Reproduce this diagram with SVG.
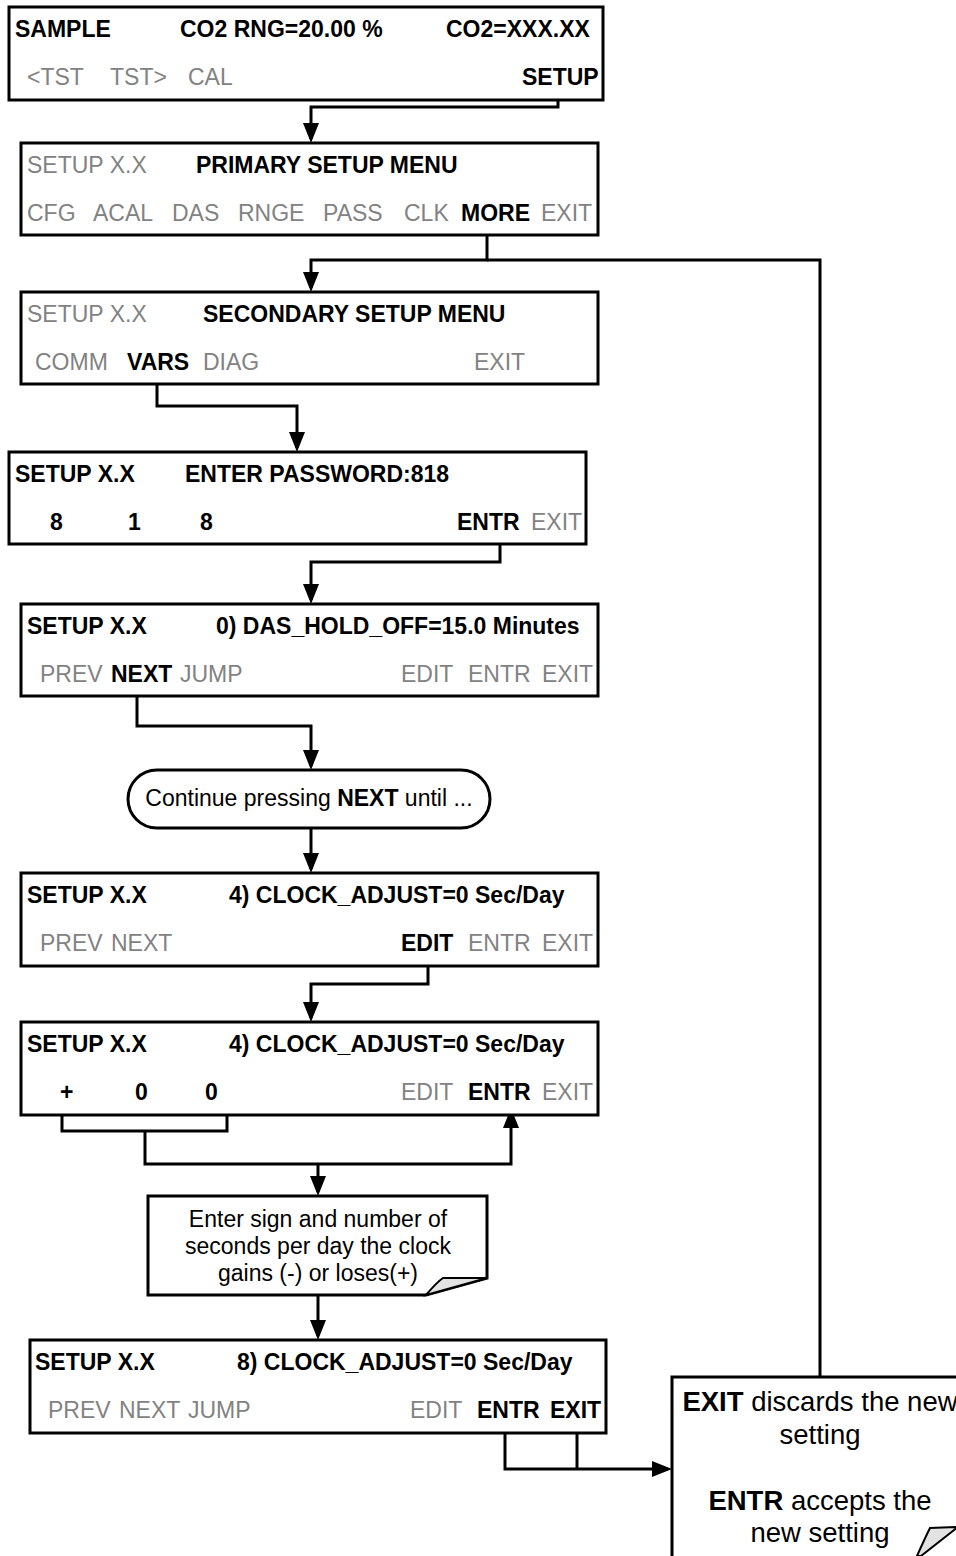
<svg xmlns="http://www.w3.org/2000/svg" width="956" height="1556" viewBox="0 0 956 1556">
<defs>
<style>
text{font-family:"Liberation Sans",Arial,sans-serif;font-size:23px}
.b{font-weight:bold;fill:#000}
.g{fill:#828282}
.k{fill:#000}
.box{fill:#fff;stroke:#000;stroke-width:3}
.ln{fill:none;stroke:#000;stroke-width:3}
.n{font-size:27.5px}
</style>
<marker id="ah" viewBox="0 0 20 16" refX="16" refY="8" markerWidth="20" markerHeight="16" markerUnits="userSpaceOnUse" orient="auto"><path d="M0,0 L20,8 L0,16 Z" fill="#000"/></marker>
</defs>
<rect width="956" height="1556" fill="#fff"/>

<g id="connectors">
<path class="ln" d="M558,100 V107 H311 V139" marker-end="url(#ah)"/>
<path class="ln" d="M487,235 V260 H311 V288" marker-end="url(#ah)"/>
<path class="ln" d="M487,260 H820 V1377"/>
<path class="ln" d="M157,376 V406 H297 V448" marker-end="url(#ah)"/>
<path class="ln" d="M500,544 V562 H311 V600" marker-end="url(#ah)"/>
<path class="ln" d="M137,684 V726 H311 V766" marker-end="url(#ah)"/>
<path class="ln" d="M311,828 V869" marker-end="url(#ah)"/>
<path class="ln" d="M428,954 V984 H311 V1018" marker-end="url(#ah)"/>
<path class="ln" d="M62,1104 V1131 H227 V1104"/>
<path class="ln" d="M145,1131 V1164 H511 V1112" marker-end="url(#ah)"/>
<path class="ln" d="M318,1164 V1192" marker-end="url(#ah)"/>
<path class="ln" d="M318,1296 V1336" marker-end="url(#ah)"/>
<path class="ln" d="M505,1424 V1469 H668" marker-end="url(#ah)"/>
<path class="ln" d="M577,1424 V1469"/>
</g>

<g id="box1">
<rect class="box" x="9" y="7" width="594" height="93"/>
<text class="b" x="15" y="37">SAMPLE</text>
<text class="b" x="180" y="37">CO2 RNG=20.00 %</text>
<text class="b" x="446" y="37">CO2=XXX.XX</text>
<text class="g" x="27" y="85">&lt;TST</text>
<text class="g" x="110" y="85">TST&gt;</text>
<text class="g" x="188" y="85">CAL</text>
<text class="b" x="522" y="85">SETUP</text>
</g>

<g id="box2">
<rect class="box" x="21" y="143" width="577" height="92"/>
<text class="g" x="27" y="173">SETUP X.X</text>
<text class="b" x="196" y="173">PRIMARY SETUP MENU</text>
<text class="g" x="27" y="221">CFG</text>
<text class="g" x="93" y="221">ACAL</text>
<text class="g" x="172" y="221">DAS</text>
<text class="g" x="238" y="221">RNGE</text>
<text class="g" x="323" y="221">PASS</text>
<text class="g" x="404" y="221">CLK</text>
<text class="b" x="461" y="221">MORE</text>
<text class="g" x="541" y="221">EXIT</text>
</g>

<g id="box3">
<rect class="box" x="21" y="292" width="577" height="92"/>
<text class="g" x="27" y="322">SETUP X.X</text>
<text class="b" x="203" y="322">SECONDARY SETUP MENU</text>
<text class="g" x="35" y="370">COMM</text>
<text class="b" x="127" y="370">VARS</text>
<text class="g" x="203" y="370">DIAG</text>
<text class="g" x="474" y="370">EXIT</text>
</g>

<g id="box4">
<rect class="box" x="9" y="452" width="577" height="92"/>
<text class="b" x="15" y="482">SETUP X.X</text>
<text class="b" x="185" y="482">ENTER PASSWORD:818</text>
<text class="b" x="50" y="530">8</text>
<text class="b" x="128" y="530">1</text>
<text class="b" x="200" y="530">8</text>
<text class="b" x="457" y="530">ENTR</text>
<text class="g" x="531" y="530">EXIT</text>
</g>

<g id="box5">
<rect class="box" x="21" y="604" width="577" height="92"/>
<text class="b" x="27" y="634">SETUP X.X</text>
<text class="b" x="216" y="634">0) DAS_HOLD_OFF=15.0 Minutes</text>
<text class="g" x="40" y="682">PREV</text>
<text class="b" x="111" y="682">NEXT</text>
<text class="g" x="180" y="682">JUMP</text>
<text class="g" x="401" y="682">EDIT</text>
<text class="g" x="468" y="682">ENTR</text>
<text class="g" x="542" y="682">EXIT</text>
</g>

<g id="continue">
<rect class="box" x="128" y="770" width="362" height="58" rx="29" ry="29"/>
<text class="k" x="309" y="806" text-anchor="middle">Continue pressing <tspan class="b">NEXT</tspan> until ...</text>
</g>

<g id="box6">
<rect class="box" x="21" y="873" width="577" height="93"/>
<text class="b" x="27" y="903">SETUP X.X</text>
<text class="b" x="229" y="903">4) CLOCK_ADJUST=0 Sec/Day</text>
<text class="g" x="40" y="951">PREV</text>
<text class="g" x="111" y="951">NEXT</text>
<text class="b" x="401" y="951">EDIT</text>
<text class="g" x="468" y="951">ENTR</text>
<text class="g" x="542" y="951">EXIT</text>
</g>

<g id="box7">
<rect class="box" x="21" y="1022" width="577" height="93"/>
<text class="b" x="27" y="1052">SETUP X.X</text>
<text class="b" x="229" y="1052">4) CLOCK_ADJUST=0 Sec/Day</text>
<text class="b" x="60" y="1100">+</text>
<text class="b" x="135" y="1100">0</text>
<text class="b" x="205" y="1100">0</text>
<text class="g" x="401" y="1100">EDIT</text>
<text class="b" x="468" y="1100">ENTR</text>
<text class="g" x="542" y="1100">EXIT</text>
</g>

<g id="note1">
<path class="box" d="M148,1196 H487 V1278 L426,1295 H148 Z"/>
<path d="M426,1295 Q437,1282 443,1278 L487,1278 Z" fill="#e3e3e3" stroke="#000" stroke-width="2"/>
<text class="k" x="318" y="1227" text-anchor="middle">Enter sign and number of</text>
<text class="k" x="318" y="1254" text-anchor="middle">seconds per day the clock</text>
<text class="k" x="318" y="1281" text-anchor="middle">gains (-) or loses(+)</text>
</g>

<g id="box8">
<rect class="box" x="30" y="1340" width="576" height="93"/>
<text class="b" x="35" y="1370">SETUP X.X</text>
<text class="b" x="237" y="1370">8) CLOCK_ADJUST=0 Sec/Day</text>
<text class="g" x="48" y="1418">PREV</text>
<text class="g" x="119" y="1418">NEXT</text>
<text class="g" x="188" y="1418">JUMP</text>
<text class="g" x="410" y="1418">EDIT</text>
<text class="b" x="477" y="1418">ENTR</text>
<text class="b" x="550" y="1418">EXIT</text>
</g>

<g id="note2">
<path class="box" d="M672,1560 V1377 H960"/>
<path d="M917,1556 Q925,1538 930,1528 L958,1527 L921,1556 Z" fill="#e3e3e3" stroke="#000" stroke-width="2"/>
<text class="k n" x="820" y="1411" text-anchor="middle"><tspan class="b">EXIT</tspan> discards the new</text>
<text class="k n" x="820" y="1444" text-anchor="middle">setting</text>
<text class="k n" x="820" y="1510" text-anchor="middle"><tspan class="b">ENTR</tspan> accepts the</text>
<text class="k n" x="820" y="1542" text-anchor="middle">new setting</text>
</g>
</svg>
